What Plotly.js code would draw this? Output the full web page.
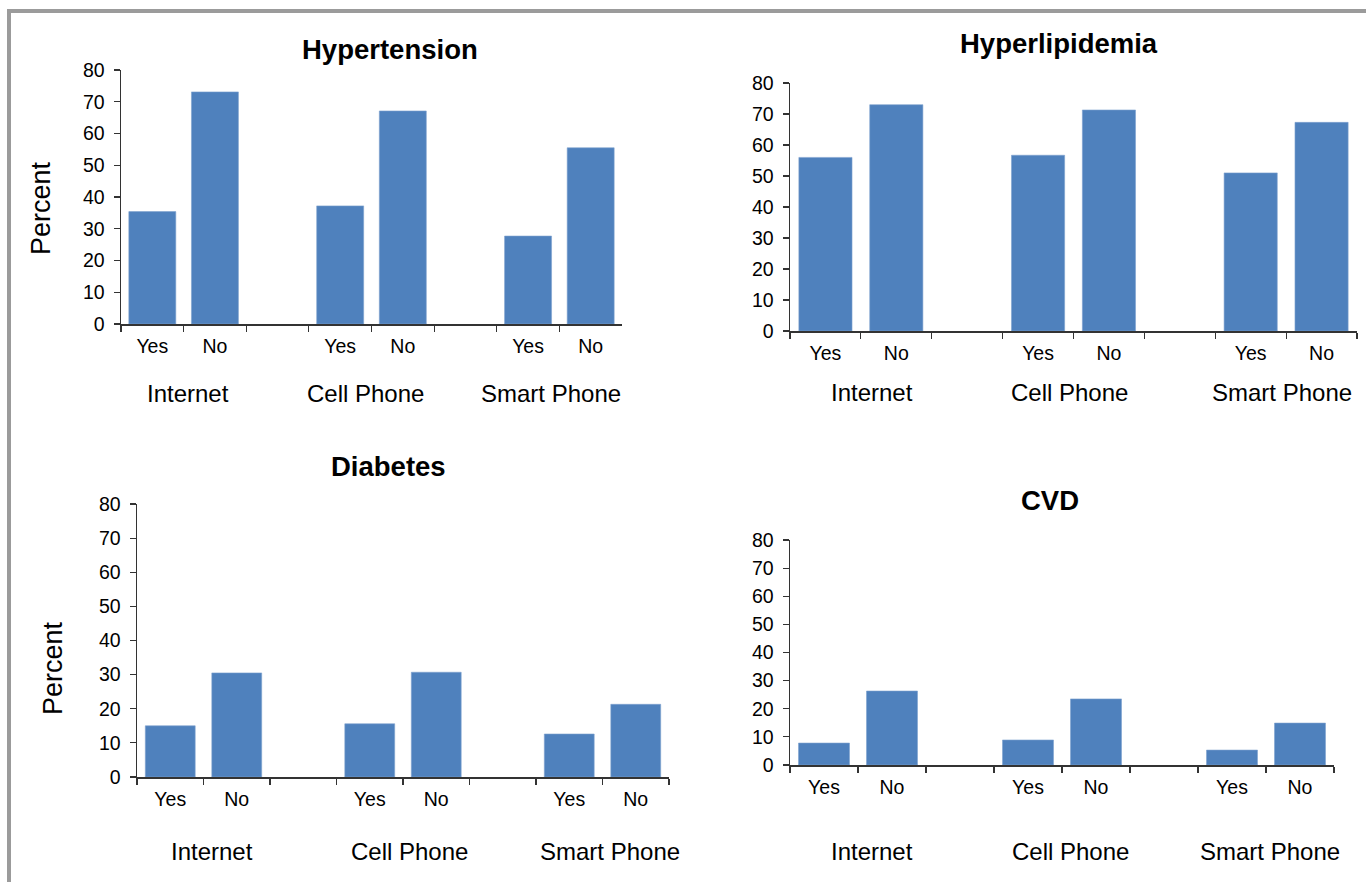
<!DOCTYPE html>
<html>
<head>
<meta charset="utf-8">
<script src="https://cdn.plot.ly/plotly-3.0.1.min.js"></script>
<style>
html,body{margin:0;padding:0;background:#fff;}
#chart{width:1366px;height:882px;}
</style>
</head>
<body>
<div id="chart"></div>
<script>
// ---- data ----
const groups = ['Internet', 'Cell Phone', 'Smart Phone'];
const answers = ['Yes', 'No'];
const panelTitles = ['Hypertension', 'Hyperlipidemia', 'Diabetes', 'CVD'];
// values per group: [Yes, No] for Internet, Cell Phone, Smart Phone
const hypertension   = [35.4, 73.1, 37.2, 67.1, 27.7, 55.5];
const hyperlipidemia = [56.0, 73.0, 56.7, 71.3, 51.0, 67.3];
const diabetes       = [15.0, 30.5, 15.6, 30.7, 12.6, 21.3];
const cvd            = [7.8, 26.3, 8.9, 23.5, 5.3, 14.9];
const yTicks = [0, 10, 20, 30, 40, 50, 60, 70, 80];
const yTitle = 'Percent';

// ---- build categories (Yes, No, gap, Yes, No, gap, Yes, No) ----
const cats = [], tickText = [], barCats = [], groupCenters = [];
groups.forEach((g, gi) => {
  groupCenters.push(cats.length + 0.5);
  answers.forEach(a => { cats.push(g + '|' + a); tickText.push(a); barCats.push(g + '|' + a); });
  if (gi < groups.length - 1) { cats.push('gap' + gi); tickText.push(''); }
});

const series = [hypertension, hyperlipidemia, diabetes, cvd];
const W = 1366, H = 882;
// plot areas in pixels: [left, right, top, bottom]
const boxes = [
  [121, 622, 70, 324],
  [790, 1357, 83, 331],
  [137, 669, 504, 777],
  [790, 1334, 540, 765]
];
const titlePos = [[390, 49], [1059, 44], [388, 466], [1050, 501]];
const groupShift = [-69, -62, -74, -86];
const groupXShift = [[4, -6, -8], [11, -4, -4], [8, 6, 7], [14, 8, 4]];
const percentPos = [[41, 208], null, [53, 668], null];

const traces = [];
const layout = {
  width: W, height: H,
  margin: {l: 0, r: 0, t: 0, b: 0},
  paper_bgcolor: '#ffffff', plot_bgcolor: '#ffffff',
  showlegend: false,
  font: {family: 'Liberation Sans, Arial, sans-serif', color: '#000'},
  annotations: [],
  shapes: [{
    type: 'rect', xref: 'paper', yref: 'paper',
    x0: 9 / W, x1: 1.05, y0: -0.05, y1: 1 - 11 / H,
    line: {color: '#9b9b9b', width: 4}, fillcolor: 'rgba(0,0,0,0)', layer: 'below'
  }],
  bargap: 0.25
};

series.forEach((vals, i) => {
  const n = i + 1;
  const xa = 'x' + (n === 1 ? '' : n), ya = 'y' + (n === 1 ? '' : n);
  const xk = 'xaxis' + (n === 1 ? '' : n), yk = 'yaxis' + (n === 1 ? '' : n);
  traces.push({
    type: 'bar', x: barCats, y: vals, xaxis: xa, yaxis: ya,
    marker: {color: '#4f81bd', line: {color: '#7ea1cf', width: 0.6}},
    hoverinfo: 'x+y'
  });
  const b = boxes[i];
  layout[xk] = {
    domain: [b[0] / W, b[1] / W], anchor: ya,
    type: 'category', categoryorder: 'array', categoryarray: cats,
    tickmode: 'array', tickvals: cats, ticktext: tickText,
    tickson: 'boundaries', ticks: 'outside', ticklen: 6, tickwidth: 1.2, tickcolor: '#333',
    range: [-0.5, cats.length - 0.5],
    showline: true, linecolor: '#333', linewidth: 1.5,
    showgrid: false, zeroline: false, fixedrange: true,
    tickfont: {size: 19.5, color: '#000'}, ticklabelstandoff: 4
  };
  layout[yk] = {
    domain: [1 - b[3] / H, 1 - b[2] / H], anchor: xa,
    range: [0, 80], tickmode: 'array', tickvals: yTicks,
    ticks: 'outside', ticklen: 6, tickwidth: 1.2, tickcolor: '#333',
    showline: true, linecolor: '#333', linewidth: 1.5,
    showgrid: false, zeroline: false, fixedrange: true,
    tickfont: {size: 19.5, color: '#000'}, ticklabelstandoff: 5
  };
  layout.annotations.push({
    text: '<b>' + panelTitles[i] + '</b>', xref: 'paper', yref: 'paper',
    x: titlePos[i][0] / W, y: 1 - titlePos[i][1] / H,
    xanchor: 'center', yanchor: 'middle', showarrow: false,
    font: {size: 27.5, color: '#000'}
  });
  groups.forEach((g, gi) => {
    layout.annotations.push({
      text: g, xref: xa, yref: ya + ' domain',
      x: groupCenters[gi], y: 0, yshift: groupShift[i], xshift: groupXShift[i][gi],
      xanchor: 'center', yanchor: 'middle', showarrow: false,
      font: {size: 24, color: '#000'}
    });
  });
  if (percentPos[i]) {
    layout.annotations.push({
      text: yTitle, xref: 'paper', yref: 'paper',
      x: percentPos[i][0] / W, y: 1 - percentPos[i][1] / H,
      xanchor: 'center', yanchor: 'middle', textangle: -90, showarrow: false,
      font: {size: 27, color: '#000'}
    });
  }
});

Plotly.newPlot('chart', traces, layout, {displayModeBar: false, staticPlot: true});
</script>
</body>
</html>
